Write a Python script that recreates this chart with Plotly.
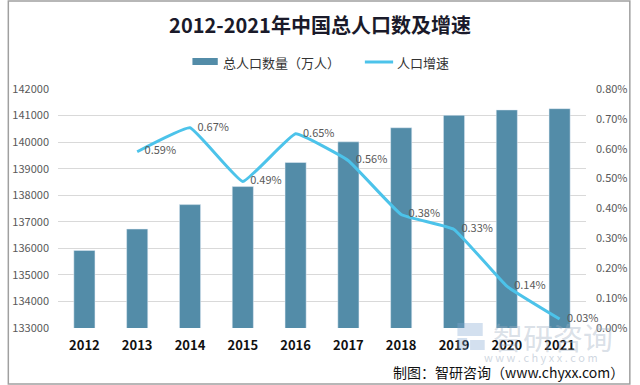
import plotly.graph_objects as go

years = ["2012", "2013", "2014", "2015", "2016", "2017", "2018", "2019", "2020", "2021"]
population = [135922, 136726, 137646, 138326, 139232, 140011, 140541, 141008, 141212, 141260]
growth_years = ["2013", "2014", "2015", "2016", "2017", "2018", "2019", "2020", "2021"]
growth = [0.0059, 0.0067, 0.0049, 0.0065, 0.0056, 0.0038, 0.0033, 0.0014, 0.0003]

FONT = "Noto Sans CJK SC"
GREY = "#595959"
BAR_C = "#538ca8"
LINE_C = "#4cc3ea"

L, R, T, B = 52, 46, 89, 57
PW, PH = 640 - L - R, 385 - T - B


def px(x):
    return (x - L) / PW


def py(y):
    return (385 - B - y) / PH


fig = go.Figure()
fig.add_trace(go.Bar(
    x=years, y=population, name="总人口数量（万人）",
    marker=dict(color=BAR_C), width=0.4,
))
fig.add_trace(go.Scatter(
    x=growth_years, y=growth, name="人口增速", yaxis="y2",
    mode="lines+text", line=dict(color=LINE_C, width=3, shape="spline", smoothing=0.3),
    text=[f"   {v*100:.2f}%" for v in growth], textposition="middle right",
    textfont=dict(family=FONT, size=11, color=GREY), cliponaxis=False,
))

fig.update_layout(
    width=640, height=385,
    margin=dict(l=L, r=R, t=T, b=B),
    paper_bgcolor="white", plot_bgcolor="white",
    font=dict(family=FONT, color=GREY),
    title=dict(text="<b>2012-2021年中国总人口数及增速</b>", x=0.5, xanchor="center",
               y=1 - 26 / 385, yanchor="middle",
               font=dict(family=FONT, size=20, color="#1a1a2a")),
    showlegend=False,
    xaxis=dict(type="category", tickfont=dict(family=FONT, size=13, color="#111111", weight="bold"),
               showgrid=False, showline=False, ticks="", ticklabelstandoff=8),
    yaxis=dict(range=[133000, 142000], dtick=1000, tickformat="d",
               gridcolor="#d9d9d9", gridwidth=1, showline=False, zeroline=False,
               tickfont=dict(family=FONT, size=11, color=GREY), ticklabelstandoff=8),
    yaxis2=dict(range=[0, 0.008], dtick=0.001, tickformat=".2%", overlaying="y", side="right",
                showgrid=False, zeroline=False, showline=False,
                tickfont=dict(family=FONT, size=11, color=GREY), ticklabelstandoff=9),
)

# custom legend (wide swatches like the reference)
fig.add_shape(type="rect", xref="paper", yref="paper", x0=px(190), x1=px(216), y0=py(65), y1=py(58),
              fillcolor=BAR_C, line=dict(width=0))
fig.add_annotation(xref="paper", yref="paper", x=px(219), y=py(62), xanchor="left", yanchor="middle",
                   text="总人口数量（万人）", showarrow=False,
                   font=dict(family=FONT, size=13, color="#333333"))
fig.add_shape(type="line", xref="paper", yref="paper", x0=px(367), x1=px(396), y0=py(62), y1=py(62),
              line=dict(color=LINE_C, width=3))
fig.add_annotation(xref="paper", yref="paper", x=px(398), y=py(62), xanchor="left", yanchor="middle",
                   text="人口增速", showarrow=False,
                   font=dict(family=FONT, size=13, color="#333333"))

# watermark logo (simple blocks) + text
WM = "rgba(130,165,210,0.35)"
fig.add_shape(type="rect", xref="paper", yref="paper", x0=px(462), x1=px(488), y0=py(336), y1=py(323),
              fillcolor=WM, line=dict(width=0), layer="above")
fig.add_shape(type="rect", xref="paper", yref="paper", x0=px(462), x1=px(472), y0=py(350), y1=py(338),
              fillcolor=WM, line=dict(width=0), layer="above")
fig.add_shape(type="rect", xref="paper", yref="paper", x0=px(475), x1=px(490), y0=py(350), y1=py(340),
              fillcolor=WM, line=dict(width=0), layer="above")
fig.add_annotation(xref="paper", yref="paper", x=px(560), y=py(336), xanchor="center", yanchor="middle",
                   text="智研咨询", showarrow=False,
                   font=dict(family=FONT, size=30, color="rgba(160,175,195,0.4)"))
fig.add_annotation(xref="paper", yref="paper", x=px(548), y=py(357), xanchor="center", yanchor="middle",
                   text="w w w . c h y x x . c o m", showarrow=False,
                   font=dict(family=FONT, size=11, color="rgba(160,175,195,0.5)"))
# source
fig.add_annotation(xref="paper", yref="paper", x=px(635), y=py(372),
                   xanchor="right", yanchor="middle",
                   text="制图：智研咨询（www.chyxx.com）", showarrow=False,
                   font=dict(family=FONT, size=14, color="#111111"))
# border
fig.add_shape(type="rect", xref="paper", yref="paper",
              x0=px(1), x1=px(639), y0=py(384), y1=py(1),
              line=dict(color="#a0a0a0", width=1.5), layer="above")

fig.write_html("out.html", config={"displayModeBar": False},
               post_script="document.body.style.margin='0';document.body.style.overflow='hidden';")
